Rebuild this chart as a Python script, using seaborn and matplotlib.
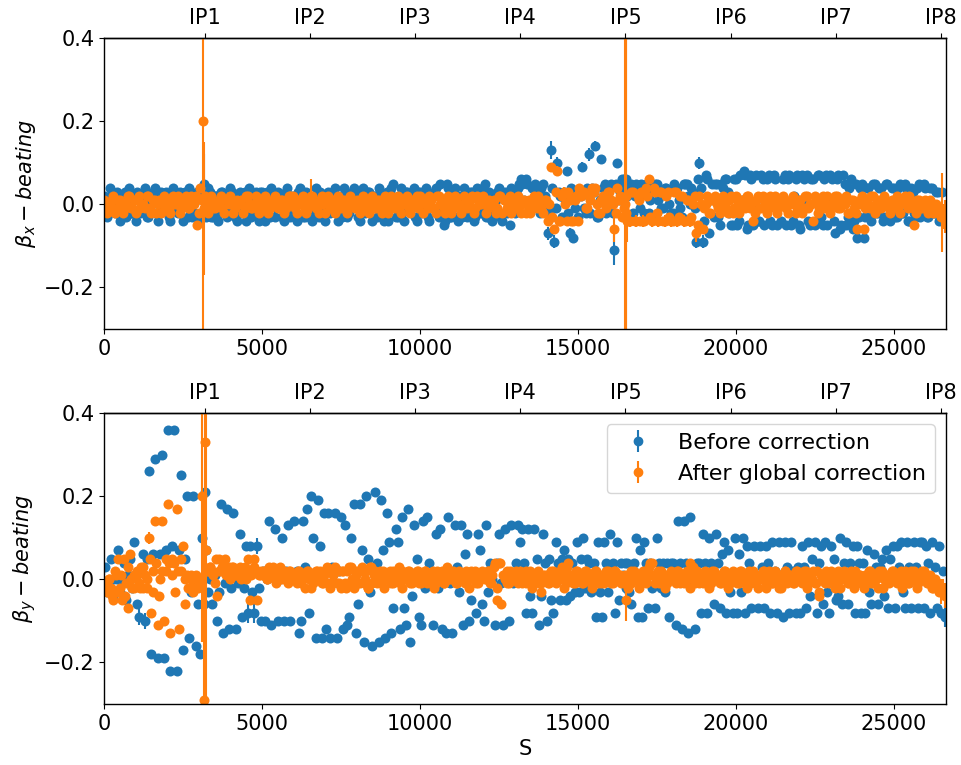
import numpy as np
import pandas as pd
import matplotlib
matplotlib.use("Agg")
import matplotlib.pyplot as plt
import seaborn as sns

# ---------------- data (beta-beating in units of 0.01) ----------------
# horizontal plane, first set of BPMs
S_x = [
    50, 150, 250, 350, 450, 550, 650, 750, 850, 950,
    1050, 1150, 1250, 1350, 1450, 1550, 1650, 1750, 1850, 1950,
    2050, 2150, 2250, 2350, 2450, 2550, 2650, 2750, 2850, 2950,
    3050, 3120, 3150, 3175, 3196, 3220, 3250, 3350, 3450, 3550, 3650, 3750, 3850, 3950,
    4050, 4150, 4250, 4350, 4450, 4550, 4650, 4750, 4850, 4950,
    5050, 5150, 5250, 5350, 5450, 5550, 5650, 5750, 5850, 5950,
    6050, 6150, 6250, 6350, 6450, 6550, 6650, 6750, 6850, 6950,
    7050, 7150, 7250, 7350, 7450, 7550, 7650, 7750, 7850, 7950,
    8050, 8150, 8250, 8350, 8450, 8550, 8650, 8750, 8850, 8950,
    9050, 9150, 9250, 9350, 9450, 9550, 9650, 9750, 9850, 9950,
    10050, 10150, 10250, 10350, 10450, 10550, 10650, 10750, 10850, 10950,
    11050, 11150, 11250, 11350, 11450, 11550, 11650, 11750, 11850, 11950,
    12050, 12150, 12250, 12350, 12450, 12550, 12650, 12750, 12850, 12950,
    13050, 13150, 13250, 13350, 13450, 13550, 13650, 13750, 13850, 13950,
    14050, 14150, 14250, 14350, 14450, 14550, 14650, 14750, 14850, 14950,
    15050, 15150, 15250, 15350, 15450, 15550, 15650, 15750, 15850, 15950,
    16050, 16150, 16250, 16350, 16450, 16500, 16520, 16540, 16560, 16650, 16750, 16850, 16950,
    17050, 17150, 17250, 17350, 17450, 17550, 17650, 17750, 17850, 17950,
    18050, 18150, 18250, 18350, 18450, 18550, 18650, 18750, 18850, 18950,
    19050, 19150, 19250, 19350, 19450, 19550, 19650, 19750, 19850, 19950,
    20050, 20150, 20250, 20350, 20450, 20550, 20650, 20750, 20850, 20950,
    21050, 21150, 21250, 21350, 21450, 21550, 21650, 21750, 21850, 21950,
    22050, 22150, 22250, 22350, 22450, 22550, 22650, 22750, 22850, 22950,
    23050, 23150, 23250, 23350, 23450, 23550, 23650, 23750, 23850, 23950,
    24050, 24150, 24250, 24350, 24450, 24550, 24650, 24750, 24850, 24950,
    25050, 25150, 25250, 25350, 25450, 25550, 25650, 25750, 25850, 25950,
    26050, 26150, 26250, 26350, 26450, 26520, 26580, 26630,
]

bx_before = [
    -2, 1, 3, -2, 2, -3, 3, 0, -2, 2,
    3, -2, 2, -3, 1, 3, -2, 2, -1, 3,
    -3, 2, 3, -2, 0, 3, -3, 2, -2, 3,
    3, -2, 2, 5, 4, -3, 2, 3, -3, 2, -2, 3, -2, 1,
    3, -3, 2, -2, 3, 0, -3, 2, -2, 3,
    -2, 3, -3, 2, -1, 2, -3, 3, -2, 2,
    -2, 3, 3, -3, 1, -2, 2, -2, 3, -1,
    2, -2, 3, -2, 1, -3, 2, -2, 3, 0,
    -3, 2, -2, 3, -1, 2, -3, 2, -4, 3,
    3, 5, -3, 2, -2, 3, -1, 2, -3, 3,
    -2, 3, -3, 2, 3, -2, 5, -5, 5, -3,
    3, -3, 2, -3, 3, -2, 3, -3, 2, -2,
    5, -3, 2, -2, 3, -3, 2, -2, -5, 3,
    3, 5, 5, 6, 0, 4, 5, -1, 4, 2,
    -7, 13, -9, 10, 2, 3, 8, -7, -8, 3,
    3, 9, -2, 12, 4, 14, -3, 11, 5, -1,
    5, -11, 10, 3, 6, 5, 4, 6, 2, 4, -2, 5, 2,
    3, 5, -2, 4, 5, 1, -1, 4, 3, -2,
    5, 4, -1, 5, 5, 0, 3, -9, 10, -9,
    7, -7, 5, 5, -3, 5, 6, 3, -5, 6,
    -5, 7, 8, -6, 7, -5, 7, -4, 6, 1,
    7, -5, 6, 0, -4, 7, 6, -5, 2, 7,
    -6, 6, 7, -5, 6, -4, 7, -5, 7, 1,
    6, -7, 7, -5, 5, -3, 6, -4, -8, 4,
    -8, 4, -3, 5, -2, 4, -4, 5, -3, 4,
    -3, 4, -2, 5, -4, 4, -2, 4, -3, 5,
    -3, 4, -2, 3, -4, 3, -3, -2,
]

bx_after = [
    0, -1, 1, -2, 1, 0, -1, 2, -1, 1,
    1, -1, 0, 2, -1, 1, -2, 1, 0, -1,
    -1, 1, 0, 2, -1, 1, -1, 2, 0, -5,
    4, 1, 20, -1, 2, 0, -1, 1, -1, 0, 1, -1, 1, 0,
    1, -1, 0, 1, -1, 2, -1, 0, 1, -1,
    0, 1, -1, 1, 0, -1, 1, -1, 2, 0,
    -1, 1, 0, -1, 1, 2, 0, -1, 1, 0,
    1, -1, 1, 0, -1, 1, -1, 0, 1, -1,
    0, 1, -1, 1, 0, -1, 1, 0, -1, 1,
    -1, 0, 1, -1, 1, 0, -1, 1, 0, -1,
    1, 0, -1, 1, -1, 2, 0, -1, 1, 0,
    -1, 1, 0, -1, 1, 0, 2, -1, 1, 0,
    1, -1, 0, 1, -1, 2, 1, -1, 2, 1,
    -1, 1, 0, -2, 1, -1, 0, 2, -1, 1,
    -4, 9, -6, 8, -4, 3, -4, 1, -4, 2,
    4, 3, -1, 2, 4, 4, -2, 1, 0, 3,
    1, -6, 4, 2, -1, 0, 2, -2, -4, -4, 3, -4, 1,
    -4, 4, 6, -4, 3, -4, 3, -4, 3, -4,
    3, -4, 2, -4, 1, -4, 0, -7, 2, -6,
    0, -2, 1, 2, -1, 1, 0, -2, 2, -1,
    1, -1, 0, 2, -1, -4, 1, -1, 2, 0,
    -1, 1, 2, -1, 0, 1, -2, 1, 0, -1,
    1, -1, 2, 0, -4, 1, -1, 2, 0, -1,
    0, 2, -1, 1, 0, -2, 1, -1, -6, 1,
    -6, 1, -1, 2, 0, -1, 1, 0, -1, 1,
    0, -1, 1, 2, -1, 0, -5, 1, -1, 0,
    -1, 1, -2, 0, -1, -2, -3, -3,
]

# horizontal plane, second (interleaved) set of BPMs
S_x2 = [
    10, 100, 200, 300, 400, 500, 600, 700, 800, 900,
    1000, 1100, 1200, 1300, 1400, 1500, 1600, 1700, 1800, 1900,
    2000, 2100, 2200, 2300, 2400, 2500, 2600, 2700, 2800, 2900,
    3000, 3100, 3270, 3300, 3400, 3500, 3600, 3700, 3800, 3900,
    4000, 4100, 4200, 4300, 4400, 4500, 4600, 4700, 4800, 4900,
    5000, 5100, 5200, 5300, 5400, 5500, 5600, 5700, 5800, 5900,
    6000, 6100, 6200, 6300, 6400, 6500, 6600, 6700, 6800, 6900,
    7000, 7100, 7200, 7300, 7400, 7500, 7600, 7700, 7800, 7900,
    8000, 8100, 8200, 8300, 8400, 8500, 8600, 8700, 8800, 8900,
    9000, 9100, 9200, 9300, 9400, 9500, 9600, 9700, 9800, 9900,
    10000, 10100, 10200, 10300, 10400, 10500, 10600, 10700, 10800, 10900,
    11000, 11100, 11200, 11300, 11400, 11500, 11600, 11700, 11800, 11900,
    12000, 12100, 12200, 12300, 12400, 12500, 12600, 12700, 12800, 12900,
    13000, 13100, 13200, 13300, 13400, 13500, 13600, 13700, 13800, 13900,
    14000, 14100, 14200, 14300, 14400, 14500, 14600, 14700, 14800, 14900,
    15000, 15100, 15200, 15300, 15400, 15500, 15600, 15700, 15800, 15900,
    16000, 16100, 16200, 16300, 16400, 16600, 16700, 16800, 16900, 16980,
    17000, 17100, 17200, 17300, 17400, 17500, 17600, 17700, 17800, 17900,
    18000, 18100, 18200, 18300, 18400, 18500, 18600, 18700, 18800, 18900,
    19000, 19100, 19200, 19300, 19400, 19500, 19600, 19700, 19800, 19900,
    20000, 20100, 20200, 20300, 20400, 20500, 20600, 20700, 20800, 20900,
    21000, 21100, 21200, 21300, 21400, 21500, 21600, 21700, 21800, 21900,
    22000, 22100, 22200, 22300, 22400, 22500, 22600, 22700, 22800, 22900,
    23000, 23100, 23200, 23300, 23400, 23500, 23600, 23700, 23800, 23900,
    24000, 24100, 24200, 24300, 24400, 24500, 24600, 24700, 24800, 24900,
    25000, 25100, 25200, 25300, 25400, 25500, 25600, 25700, 25800, 25900,
    26000, 26100, 26200, 26300, 26400, 26500, 26600,
]

bx_before2 = [
    2, -3, 4, -1, 3, -4, 1, -3, 4, -2,
    -4, 2, -1, 4, -3, 2, 4, -4, 3, -1,
    2, -4, 4, -1, 3, -4, 2, 4, -3, 1,
    -4, 3, -1, 4, -3, 2, -4, 3, 1, -3,
    4, -1, -4, 3, 1, -4, 4, -2, 3, -4,
    3, -4, 1, 4, -3, 3, -1, -4, 4, -3,
    1, -4, 4, -3, 3, -1, -4, 4, -3, 2,
    -4, 3, -1, 4, -4, 2, 4, -3, -1, 4,
    3, -4, 4, -1, 3, -4, 2, 4, -3, 1,
    -4, 4, 1, -3, 4, -4, 3, -1, 4, -4,
    3, -1, 4, -4, 2, 4, -3, 1, -4, 4,
    -3, 4, -4, 1, 4, -3, 3, -4, 4, -1,
    4, -3, 3, -4, 1, 4, -4, 3, -1, 4,
    -2, 4, 6, 1, 5, -1, 4, 3, -2, 5,
    0, -2, 4, -1, 3, -3, 1, -2, 4, -1,
    -3, 2, -1, 4, -2, 3, -3, 1, 4, -2,
    4, -2, 5, 1, 6, -3, 5, 2, 4, -1,
    5, -2, 4, 1, -3, 5, 2, -1, 4, 0,
    -2, 4, 1, -3, 5, 2, 4, -1, 6, 4,
    -4, 6, 1, -3, 5, -5, 4, 6, -2, -5,
    6, -4, 1, 7, -5, 6, 0, -4, 7, -5,
    6, -4, 7, -5, 1, 6, -5, 7, -4, 6,
    -5, 7, 0, -4, 6, -5, 7, -3, 6, -5,
    7, -4, 6, -6, 7, -5, 4, -6, 5, -3,
    5, -3, 4, -4, 5, -2, 4, -3, 5, -4,
    4, -3, 5, -2, 4, -4, 3, -3, 5, -2,
    4, -3, 4, -2, 3, -3, -4,
]

bx_after2 = [
    1, -2, 0, 2, -1, 1, -2, 0, 2, -1,
    -2, 2, 0, -1, 2, -2, 1, 0, -2, 2,
    1, -2, 2, 0, -2, 1, 2, -1, 0, 2,
    -2, 1, 0, -2, 2, -1, 0, 2, -2, 1,
    2, -2, 1, 0, -2, 2, 0, -1, 2, -2,
    -1, 2, -2, 0, 2, -1, 1, -2, 0, 2,
    2, -2, 0, 2, -2, 0, 2, -1, -2, 2,
    -2, 2, 0, -2, 2, -1, 1, -2, 2, 0,
    1, -2, 2, 0, -2, 2, -1, 1, -2, 2,
    -2, 2, -1, 2, -2, 0, 2, -2, 1, 2,
    2, -2, 0, 2, -1, -2, 2, 0, -2, 2,
    -2, 2, 0, -2, 2, -1, 1, -2, 2, 0,
    2, -2, 1, 0, -2, 2, -2, 1, 0, -2,
    0, 2, -2, 1, 0, -2, 2, -1, 1, -2,
    1, 0, -3, 3, -4, 2, 0, 3, -4, 1,
    -4, 2, 3, -1, 1, 3, 0, -2, 2, -1,
    3, 0, -2, 1, -3, -4, 3, -4, 2, -4,
    3, -4, 2, -3, 4, -2, 3, -4, 2, -3,
    -4, 3, -3, 2, -4, 1, -3, 2, -5, 0,
    -1, 2, -2, 1, 0, -2, 2, -1, 1, -2,
    2, -2, 1, -1, 2, 0, -2, 2, -1, 1,
    -2, 2, 0, -2, 1, 2, -1, 0, 2, -2,
    1, -2, 2, -1, 0, 2, -2, 1, -1, 2,
    -2, 1, 2, -1, 0, 2, -2, 1, -2, 0,
    2, -1, 0, 2, -2, 1, -1, 2, 0, -2,
    -1, 2, -2, 1, 0, 2, -1, -2, 1, -1,
    1, -2, 0, -1, -2, -3, -2,
]

# vertical plane
S_y = [
    30, 100, 165, 230, 300, 365, 430, 500, 565, 630, 700, 765, 830, 900, 965,
    1030, 1100, 1165, 1230, 1300, 1365, 1430, 1500, 1565, 1630, 1700, 1765, 1830, 1900, 1965,
    2030, 2100, 2165, 2230, 2300, 2365, 2430, 2500, 2565, 2630, 2700, 2765, 2830, 2900, 2965,
    3030, 3100, 3165, 3196, 3230, 3300, 3365, 3430, 3500, 3565, 3630, 3700, 3765, 3830, 3900, 3965,
    4030, 4100, 4165, 4230, 4300, 4365, 4430, 4500, 4565, 4630, 4700, 4765, 4830, 4900, 4965,
    5030, 5100, 5165, 5230, 5300, 5365, 5430, 5500, 5565, 5630, 5700, 5765, 5830, 5900, 5965,
    6030, 6100, 6165, 6230, 6300, 6365, 6430, 6500, 6565, 6630, 6700, 6765, 6830, 6900, 6965,
    7030, 7100, 7165, 7230, 7300, 7365, 7430, 7500, 7565, 7630, 7700, 7765, 7830, 7900, 7965,
    8030, 8100, 8165, 8230, 8300, 8365, 8430, 8500, 8565, 8630, 8700, 8765, 8830, 8900, 8965,
    9030, 9100, 9165, 9230, 9300, 9365, 9430, 9500, 9565, 9630, 9700, 9765, 9830, 9900, 9965,
    10030, 10100, 10165, 10230, 10300, 10365, 10430, 10500, 10565, 10630, 10700, 10765, 10830, 10900, 10965,
    11030, 11100, 11165, 11230, 11300, 11365, 11430, 11500, 11565, 11630, 11700, 11765, 11830, 11900, 11965,
    12030, 12100, 12165, 12230, 12300, 12365, 12430, 12500, 12565, 12630, 12700, 12765, 12830, 12900, 12965,
    13030, 13100, 13165, 13230, 13300, 13365, 13430, 13500, 13565, 13630, 13700, 13765, 13830, 13900, 13965,
    14030, 14100, 14165, 14230, 14300, 14365, 14430, 14500, 14565, 14630, 14700, 14765, 14830, 14900, 14965,
    15030, 15100, 15165, 15230, 15300, 15365, 15430, 15500, 15565, 15630, 15700, 15765, 15830, 15900, 15965,
    16030, 16100, 16165, 16230, 16300, 16365, 16430, 16500, 16530, 16565, 16630, 16700, 16765, 16830, 16900, 16965,
    17030, 17100, 17165, 17230, 17300, 17365, 17430, 17500, 17565, 17630, 17700, 17765, 17830, 17900, 17965,
    18030, 18100, 18165, 18230, 18300, 18365, 18430, 18500, 18565, 18630, 18700, 18765, 18830, 18900, 18965,
    19030, 19100, 19165, 19230, 19300, 19365, 19430, 19500, 19565, 19630, 19700, 19765, 19830, 19900, 19965,
    20030, 20100, 20165, 20230, 20300, 20365, 20430, 20500, 20565, 20630, 20700, 20765, 20830, 20900, 20965,
    21030, 21100, 21165, 21230, 21300, 21365, 21430, 21500, 21565, 21630, 21700, 21765, 21830, 21900, 21965,
    22030, 22100, 22165, 22230, 22300, 22365, 22430, 22500, 22565, 22630, 22700, 22765, 22830, 22900, 22965,
    23030, 23100, 23165, 23230, 23300, 23365, 23430, 23500, 23565, 23630, 23700, 23765, 23830, 23900, 23965,
    24030, 24100, 24165, 24230, 24300, 24365, 24430, 24500, 24565, 24630, 24700, 24765, 24830, 24900, 24965,
    25030, 25100, 25165, 25230, 25300, 25365, 25430, 25500, 25565, 25630, 25700, 25765, 25830, 25900, 25965,
    26030, 26100, 26165, 26230, 26300, 26365, 26430, 26500, 26565, 26630,
]

by_before = [
    3, -3, -1, 5, -4, 0, 7, -3, -1, 4, -5, 1, 5, -2, 9,
    -6, -9, 2, 6, -10, 5, 26, -18, 6, 29, -19, 6, 30, -19, 7,
    36, -22, 8, 36, -22, 7, 25, -17, 5, 20, -14, -3, 20, -16, -6,
    -18, 10, -6, 21, 7, -3, 0, -6, 1, -10, -3, 18, -13, -1, 17, -12,
    -2, 16, -12, -1, 11, -9, -2, 8, -8, 8, -3, -8, 8, -2, -10,
    2, -10, 0, 14, -11, 1, 12, -10, 0, 10, -10, 2, 13, -10, 0,
    14, 2, -13, -10, 14, 3, 17, -8, 20, 10, -14, 19, 8, -14, 16,
    -12, 16, -14, 3, 16, -14, 2, 15, -12, 13, -11, -9, 10, 18, -13,
    -6, 18, 7, -15, 20, 5, -3, -16, 21, 4, -15, 19, 7, -14, 16,
    9, -13, -7, 12, 9, -12, 15, -7, -11, 17, -15, -4, 13, 5, -9,
    -11, 14, -2, 15, 4, -1, -11, 11, -2, 12, -12, 0, -13, 15, -1,
    -13, 13, 3, -3, 13, -11, 6, 11, -10, -5, 1, -8, 11, 7, -6,
    -10, 13, -3, 4, 0, -11, 4, 11, -1, -11, 12, 0, -10, 13, -1,
    4, 13, 9, 12, 4, -8, 12, -4, -8, 12, 5, -11, -4, 11, 4,
    -10, 5, -5, -8, 9, 4, -5, 5, 7, -5, 5, -4, 4, -3, 9,
    -3, 5, 10, -2, 5, 4, -3, 4, -9, 9, -3, -9, 9, 4, -3,
    11, 4, -8, 9, -5, 4, 1, 4, -2, 4, -3, -6, 4, 10, -9, 7,
    -9, 9, 4, -7, 4, -2, -7, 10, 4, -2, 4, -3, 4, -9, 4,
    4, -11, 14, 4, -12, 14, 4, -13, 15, -1, -12, 4, 4, -8, 11,
    4, -8, 10, 4, -6, 11, 4, -7, 6, 9, -8, 7, -3, -8, 10,
    -8, 6, -3, 10, -8, 8, 4, -7, 8, 0, -7, 8, 3, -7, 8,
    4, -8, 9, 2, -8, 9, 1, -9, 9, 3, -8, 9, 2, -8, 3,
    -8, 8, 3, -7, 9, -4, 5, 9, -8, 4, 8, -6, 9, -3, -8,
    8, 5, -5, -4, 10, -6, 4, 9, -6, 4, 8, -8, 8, 4, -8,
    4, -8, 7, -3, -6, 6, 3, -6, 3, 5, -4, 7, -7, 5, 8,
    -7, 8, 3, 9, -3, -7, 9, 3, -7, 9, 3, -7, 9, 9, -7,
    8, 4, -8, 9, 3, -7, 8, -8, 2, -9,
]

by_after = [
    -1, -3, 0, -2, -5, 1, 5, -2, -5, 5, -1, -7, 6, -2, 1,
    2, -1, 3, -2, 1, -2, 10, -8, 2, 14, -11, 0, 14, -10, 2,
    18, -13, 5, 4, 17, -12, 2, 8, -6, 1, -2, 0, -3, 1, -2,
    0, 20, -29, 33, 7, 2, 3, 2, -1, -4, 5, 2, 3, 5, 2, 3,
    2, 3, 1, 2, 3, 1, 2, 0, 5, -5, 2, 5, -5, 1, 2,
    1, 2, 0, 3, 1, 2, 0, 1, 3, 0, 2, 1, -1, 2, 0,
    1, -1, 2, 0, 1, -2, 2, 0, 1, -1, 2, 0, 2, -1, 1,
    2, -1, 2, -1, 3, -1, 2, -2, 2, -1, 2, -1, 3, -2, 1,
    2, -1, 3, -1, 2, -2, 3, -1, 2, 0, 1, -1, 2, 0, 1,
    1, -1, 2, 0, 1, -1, 2, 1, 0, 2, -1, 1, 0, 2, -1,
    1, 0, 2, -1, 1, 0, 2, -1, 0, 1, 2, -1, 1, 0, 1,
    0, 1, -1, 2, 0, 1, -1, 1, 0, 2, 1, -1, 1, 0, 2,
    1, 0, 2, -1, 1, 4, -5, 4, -6, 1, 0, 2, -1, 1, 0,
    1, -1, 2, 0, 1, -1, 1, 2, -1, 0, 1, -1, -3, 1, 0,
    1, -1, 0, 2, -1, 1, 0, 3, 1, -1, 4, 0, 1, -1, 2,
    0, 1, -1, 2, 0, 1, -1, 0, 2, -1, 1, 0, -1, 2, 0,
    1, -1, 2, 0, 1, -1, 0, 1, -5, 0, 1, -1, 2, 0, 1, -1,
    0, 1, -1, 2, 4, 4, 1, 0, -1, 2, 0, 1, -1, 1, 0,
    1, -1, 2, 0, 1, -1, 1, 0, 4, 1, -1, 2, 0, 1, -1,
    2, 0, 1, -1, 2, 1, 0, -1, 1, 2, 0, 1, -1, 2, 0,
    1, -1, 2, 0, -1, 1, 2, -1, 0, 1, -2, 1, 0, 2, -1,
    0, 1, -1, 2, 0, -2, 1, 0, 2, -1, 1, 0, -1, 2, 0,
    1, -1, 0, 2, -1, 1, 0, -1, 2, -4, 1, 0, -1, 1, 0,
    2, -1, 1, 0, -2, 1, 2, 0, -1, 1, 0, 2, -1, 1, 0,
    -1, 1, 0, 2, -1, 1, 0, -2, 1, 2, 0, -1, 1, 0, 2,
    0, -1, 1, 2, -1, 0, 1, -1, 2, 0, 1, -1, 0, 2, 1,
    0, -1, 1, -2, 0, -1, -2, -3, -2, -4,
]

# vertical plane, extra BPMs seen only in the corrected data band
S_y2 = [
    50, 150, 250, 350, 450, 550, 650, 750, 850, 950,
    1050, 1150, 1250, 1350, 1450, 1550, 1650, 1750, 1850, 1950,
    2050, 2150, 2250, 2350, 2450, 2550, 2650, 2750, 2850, 2950,
    3050, 3300, 3350, 3450, 3550, 3650, 3750, 3850, 3950, 3990,
    4050, 4150, 4250, 4350, 4450, 4550, 4650, 4750, 4850, 4950,
    5050, 5150, 5250, 5350, 5450, 5550, 5650, 5750, 5850, 5950,
    6050, 6150, 6250, 6350, 6450, 6550, 6650, 6750, 6850, 6950,
    7050, 7150, 7250, 7350, 7450, 7550, 7650, 7750, 7850, 7950,
    8050, 8150, 8250, 8350, 8450, 8550, 8650, 8750, 8850, 8950,
    9050, 9150, 9250, 9350, 9450, 9550, 9650, 9750, 9850, 9950,
    10050, 10150, 10250, 10350, 10450, 10550, 10650, 10750, 10850, 10950,
    11050, 11150, 11250, 11350, 11450, 11550, 11650, 11750, 11850, 11950,
    12050, 12150, 12250, 12350, 12450, 12550, 12650, 12750, 12850, 12950,
    13050, 13150, 13250, 13350, 13450, 13550, 13650, 13750, 13850, 13950,
    14050, 14150, 14250, 14350, 14450, 14550, 14650, 14750, 14850, 14950,
    15050, 15150, 15250, 15350, 15450, 15550, 15650, 15750, 15850, 15950,
    16050, 16150, 16250, 16350, 16450, 16600, 16680, 16750, 16850, 16950,
    17050, 17150, 17250, 17350, 17450, 17550, 17650, 17750, 17850, 17950,
    18050, 18150, 18250, 18350, 18450, 18550, 18650, 18750, 18850, 18950,
    19050, 19150, 19250, 19350, 19450, 19550, 19650, 19750, 19850, 19950,
    20050, 20150, 20250, 20350, 20450, 20550, 20650, 20750, 20850, 20950,
    21050, 21150, 21250, 21350, 21450, 21550, 21650, 21750, 21850, 21950,
    22050, 22150, 22250, 22350, 22450, 22550, 22650, 22750, 22850, 22950,
    23050, 23150, 23250, 23350, 23450, 23550, 23650, 23750, 23850, 23950,
    24050, 24150, 24250, 24350, 24450, 24550, 24650, 24750, 24850, 24950,
    25050, 25150, 25250, 25350, 25450, 25550, 25650, 25750, 25850, 25950,
    26050, 26150, 26250, 26350, 26450, 26550,
]

by_after2 = [
    -2, 0, -4, 2, -3, 1, -4, 3, 0, -2,
    1, -2, 3, 0, 5, -3, 4, -4, 2, 5,
    4, 1, -3, 2, 5, 0, -2, 1, -1, 0,
    -1, 2, 3, 1, 5, 2, 3, 1, 2, 0,
    3, 1, 2, 0, 3, 2, 1, 3, 2, 1,
    2, 0, 1, 3, -1, 2, 1, 0, 2, 1,
    0, 2, -1, 1, 2, -2, 0, 2, 1, -1,
    3, -2, 1, 2, -1, 2, -2, 3, 0, 2,
    -1, 2, 0, -2, 3, 1, -1, 2, -2, 1,
    2, -1, 1, 3, -2, 0, 2, -1, 1, 2,
    -1, 2, 0, 1, -2, 2, 1, -1, 3, 0,
    2, -1, 1, 0, 2, -2, 1, 2, -1, 1,
    0, 2, -1, 3, -2, 4, 1, -1, 2, 0,
    2, 0, -1, 2, 1, -2, 0, 2, -1, 1,
    -1, 2, 1, 0, 2, -2, 3, 1, -1, 2,
    1, -1, 2, 0, -2, 2, 1, -1, 0, 2,
    -1, 2, 0, 1, -1, -2, 2, 0, 1, -2,
    2, 0, 3, 1, -1, 2, 0, -2, 1, 2,
    0, 2, -1, 1, 2, -2, 3, 1, -1, 0,
    1, -2, 2, 0, 1, -1, 2, -2, 0, 1,
    -1, 2, 0, -2, 1, 2, -1, 0, 2, -2,
    2, -1, 1, 0, -2, 2, 0, 1, -1, 2,
    0, 2, -2, 1, 2, -1, -3, 0, 2, -1,
    1, -2, 2, 0, 1, -1, 2, -2, 0, 1,
    -2, 1, 2, -1, 0, 2, -2, 1, -1, 2,
    1, 0, -2, 2, -1, 1, 2, -2, 0, 2,
    -1, 0, -2, -1, -3, -2,
]

# typical measurement error and the points with visibly larger error bars
err_typical_x = 0.008
err_typical_y = 0.006
bxb_err_S = [3175, 14050, 14150, 14250, 14350, 14750, 14850, 15150, 15350, 15550, 16150, 18750, 18850, 18950]
bxb_err_v = [0.07, 0.015, 0.022, 0.015, 0.015, 0.012, 0.012, 0.012, 0.015, 0.012, 0.035, 0.015, 0.015, 0.015]
bxa_err_S = [3150, 3175, 6550, 14050, 14350, 14550, 14750, 14950, 16150, 16500, 16520, 16540, 16560,
             16650, 16850, 17050, 17350, 17550, 17750, 17950, 18150, 18350, 18550, 18750, 26520, 26580, 26630]
bxa_err_v = [0.6, 0.16, 0.04, 0.012, 0.012, 0.012, 0.012, 0.012, 0.03, 0.8, 0.8, 0.8, 0.05,
             0.015, 0.015, 0.015, 0.015, 0.015, 0.015, 0.015, 0.015, 0.015, 0.015, 0.02, 0.095, 0.03, 0.04]
byb_err_S = [1100, 1300, 4565, 4765, 4830, 26630]
byb_err_v = [0.02, 0.02, 0.025, 0.025, 0.02, 0.025]
bya_err_S = [1430, 3100, 3165, 3196, 3230, 16530, 26430, 26500, 26565, 26630]
bya_err_v = [0.015, 0.35, 0.5, 0.6, 0.4, 0.05, 0.02, 0.03, 0.02, 0.03]

IP_labels = ["IP1", "IP2", "IP3", "IP4", "IP5", "IP6", "IP7", "IP8"]
IP_pos = [3195, 6525, 9855, 13180, 16510, 19840, 23165, 26490]
circumference = 26659
series_labels = ["Before correction", "After global correction"]

# ---------------- style ----------------
sns.set_style("ticks")
plt.rcParams["font.family"] = ["DejaVu Sans"]
plt.rcParams.update({
    "axes.edgecolor": "black",
    "axes.linewidth": 1.0,
    "xtick.color": "black",
    "ytick.color": "black",
    "xtick.major.size": 3.5,
    "ytick.major.size": 3.5,
    "xtick.major.width": 0.8,
    "ytick.major.width": 0.8,
    "text.color": "black",
    "axes.labelcolor": "black",
})
pal = sns.color_palette("tab10")
c_before, c_after = pal[0], pal[1]
FS = 15


def build_err(S, base, spec_s, spec_v):
    lookup = dict(zip(spec_s, spec_v))
    return np.array([lookup.get(s, base) for s in S])


def draw(ax, S, vals, err, color, z):
    df = pd.DataFrame({"S": S, "beat": np.array(vals) / 100.0, "err": err})
    ax.errorbar(df["S"], df["beat"], yerr=df["err"], fmt="none", ecolor=color,
                elinewidth=1.5, zorder=z)
    sns.scatterplot(data=df, x="S", y="beat", color=color, s=52, linewidth=0,
                    ax=ax, zorder=z + 0.05, legend=False)


fig = plt.figure(figsize=(9.61, 7.65), dpi=100)
ax1 = fig.add_axes([0.1082, 0.5699, 0.8762, 0.3804])
ax2 = fig.add_axes([0.1082, 0.0797, 0.8762, 0.3804])

Sx_all = S_x + S_x2
draw(ax1, Sx_all, bx_before + bx_before2,
     build_err(Sx_all, err_typical_x, bxb_err_S, bxb_err_v), c_before, 2.0)
draw(ax1, Sx_all, bx_after + bx_after2,
     build_err(Sx_all, err_typical_x, bxa_err_S, bxa_err_v), c_after, 2.2)
draw(ax2, S_y, by_before, build_err(S_y, err_typical_y, byb_err_S, byb_err_v), c_before, 2.0)
Sy_after = S_y + S_y2
draw(ax2, Sy_after, by_after + by_after2,
     build_err(Sy_after, err_typical_y, bya_err_S, bya_err_v), c_after, 2.2)

for ax, lab in [(ax1, r"$\beta_x - beating$"), (ax2, r"$\beta_y - beating$")]:
    ax.set_xlim(0, circumference)
    ax.set_ylim(-0.3, 0.4)
    ax.set_yticks([-0.2, 0.0, 0.2, 0.4])
    ax.set_xticks([0, 5000, 10000, 15000, 20000, 25000])
    ax.tick_params(labelsize=FS)
    ax.set_ylabel(lab, fontsize=FS)
    ax.set_xlabel("")
    for sp in ax.spines.values():
        sp.set_visible(True)
        sp.set_color("black")
    sec = ax.secondary_xaxis("top")
    sec.set_xticks(IP_pos)
    sec.set_xticklabels(IP_labels)
    sec.tick_params(labelsize=FS, direction="out", length=3.5, width=0.8)

ax2.set_xlabel("S", fontsize=FS)

h1 = ax2.errorbar([], [], yerr=[], fmt="o", color=c_before, ms=6, elinewidth=1.5)
h2 = ax2.errorbar([], [], yerr=[], fmt="o", color=c_after, ms=6, elinewidth=1.5)
ax2.legend([h1, h2], series_labels, loc="upper right", fontsize=16, frameon=True)
ax2.set_xlim(0, circumference)
ax2.set_ylim(-0.3, 0.4)

fig.savefig("out.png", dpi=100)
